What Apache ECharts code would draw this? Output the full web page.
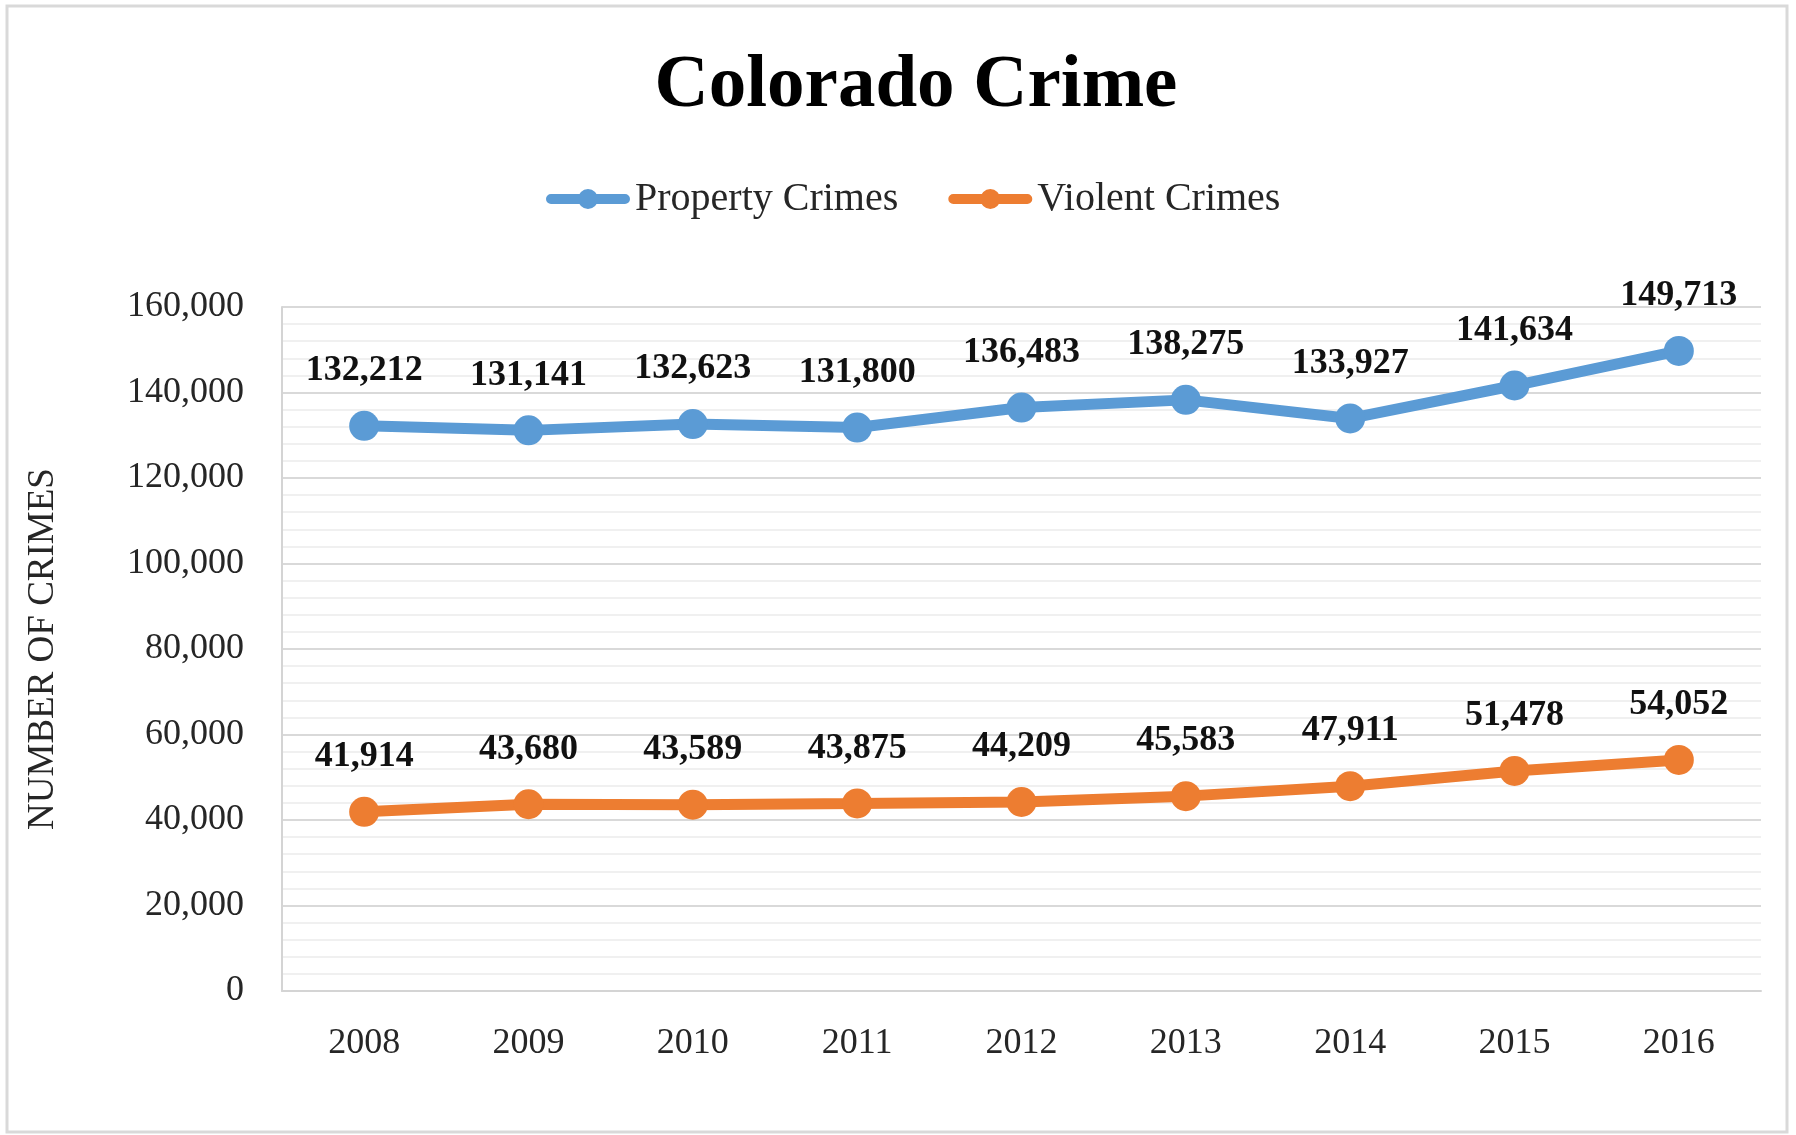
<!DOCTYPE html>
<html>
<head>
<meta charset="utf-8">
<title>Colorado Crime</title>
<script src="https://cdn.jsdelivr.net/npm/echarts@6/dist/echarts.min.js"></script>
<style>
  html, body { margin: 0; padding: 0; background: #ffffff; }
  #chart { width: 1796px; height: 1135px; }
</style>
</head>
<body>
<div id="chart"></div>
<script>
// Reported crimes in Colorado, by year
var years = ['2008', '2009', '2010', '2011', '2012', '2013', '2014', '2015', '2016'];
var propertyCrimes = [132212, 131141, 132623, 131800, 136483, 138275, 133927, 141634, 149713];
var violentCrimes = [41914, 43680, 43589, 43875, 44209, 45583, 47911, 51478, 54052];

var SERIF = '"Liberation Serif", "DejaVu Serif", serif';
var BLUE = '#5B9BD5';
var ORANGE = '#ED7D31';

// Legend key: a thick rounded line with a dot in the middle
var LINE_KEY = 'path://M5,5 L79,5 A5,5 0 0 1 79,15 L5,15 A5,5 0 0 1 5,5 Z ' +
               'M32,10 A10,10 0 1 1 52,10 A10,10 0 1 1 32,10 Z';

function thousands(v) {
  return String(v).replace(/\B(?=(\d{3})+(?!\d))/g, ',');
}

function lineSeries(name, data, color) {
  return {
    name: name,
    type: 'line',
    data: data,
    symbol: 'circle',
    symbolSize: 30,
    lineStyle: { color: color, width: 11 },
    itemStyle: { color: color },
    label: {
      show: true,
      position: 'top',
      distance: 22,
      fontFamily: SERIF,
      fontWeight: 'bold',
      fontSize: 36,
      color: '#111111',
      formatter: function (p) { return thousands(p.value); }
    },
    z: 3
  };
}

var chart = echarts.init(document.getElementById('chart'), null, { renderer: 'canvas' });

chart.setOption({
  backgroundColor: '#ffffff',
  animation: false,
  graphic: [{
    type: 'rect',
    shape: { x: 7, y: 6, width: 1780, height: 1126 },
    style: { fill: 'none', stroke: '#d9d9d9', lineWidth: 3 },
    z: -1
  }],
  title: {
    text: 'Colorado Crime',
    left: 911,
    top: 44,
    textAlign: 'center',
    textStyle: {
      fontFamily: SERIF,
      fontWeight: 'bold',
      fontSize: 75,
      color: '#000000'
    }
  },
  legend: {
    data: [
      { name: 'Property Crimes', icon: LINE_KEY },
      { name: 'Violent Crimes', icon: LINE_KEY }
    ],
    top: 174,
    left: 541,
    itemWidth: 84,
    itemHeight: 20,
    itemGap: 50,
    textStyle: {
      fontFamily: SERIF,
      fontSize: 40,
      color: '#262626',
      padding: [0, 0, 0, 0]
    }
  },
  grid: {
    left: 282,
    right: 35,
    top: 307,
    bottom: 144,
    containLabel: false
  },
  xAxis: {
    type: 'category',
    data: years,
    boundaryGap: true,
    axisLine: { show: true, lineStyle: { color: '#d4d4d4', width: 2 } },
    axisTick: { show: false },
    axisLabel: {
      margin: 35,
      fontFamily: SERIF,
      fontSize: 36,
      color: '#262626'
    },
    splitLine: { show: false }
  },
  yAxis: {
    type: 'value',
    min: 0,
    max: 160000,
    interval: 20000,
    name: 'NUMBER OF CRIMES',
    nameLocation: 'middle',
    nameGap: 220,
    nameRotate: 90,
    nameTextStyle: {
      fontFamily: SERIF,
      fontSize: 37,
      color: '#262626'
    },
    axisLine: { show: true, lineStyle: { color: '#d4d4d4', width: 2 } },
    axisTick: { show: false },
    axisLabel: {
      margin: 38,
      fontFamily: SERIF,
      fontSize: 36,
      color: '#262626',
      formatter: function (v) { return thousands(v); }
    },
    splitLine: { show: true, lineStyle: { color: '#d9d9d9', width: 2 } },
    minorTick: { show: false, splitNumber: 5 },
    minorSplitLine: { show: true, lineStyle: { color: '#f0f0f0', width: 2 } }
  },
  series: [
    lineSeries('Property Crimes', propertyCrimes, BLUE),
    lineSeries('Violent Crimes', violentCrimes, ORANGE)
  ]
});
</script>
</body>
</html>
